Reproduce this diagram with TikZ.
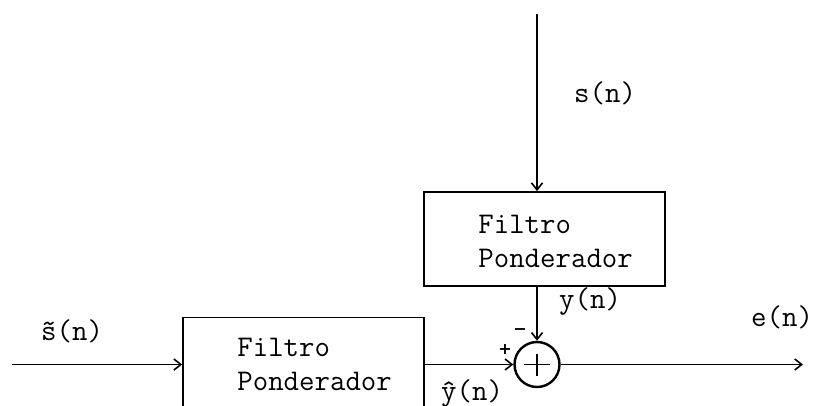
\documentclass[tikz,border=0pt]{standalone}
\usepackage{fontspec}
\usetikzlibrary{arrows.meta}
\newfontfamily\sgnfamily{DejaVu Sans}
\newcommand\lblfont{\ttfamily\fontsize{30pt}{34pt}\selectfont}
\newcommand\sgnfont{\sgnfamily\bfseries\fontsize{16pt}{18pt}\selectfont}
\tikzset{
  blk/.style={draw, line width=1.7pt, minimum width=241pt, minimum height=94pt, inner sep=0pt},
  txt/.style={font=\lblfont, inner sep=0pt, align=left},
  sgn/.style={font=\sgnfont, inner sep=0pt},
  arr/.style={line width=1.7pt, -{Straight Barb[length=7pt,width=11pt,line width=1.6pt]}},
  ln/.style={line width=1.8pt},
  summer/.style={draw, circle, line width=2.4pt, minimum size=45pt, inner sep=0pt}
}
\begin{document}
\begin{tikzpicture}[x=1pt,y=-1pt]
\useasboundingbox (0,0) rectangle (818,405);
% blocks
\node[blk] (tbox) at (544.5,239) {};
\node[blk] (bbox) at (303.5,364.5) {};
\node[txt, anchor=west] (ttext) at ([xshift=55pt,yshift=-2pt]tbox.west) {Filtro\\Ponderador};
\node[txt, anchor=west] (btext) at ([xshift=55pt]bbox.west) {Filtro\\Ponderador};
% summing junction
\node[summer] (sum) at (537,364.5) {};
\draw[ln] ([xshift=-13pt]sum.center) -- ([xshift=13pt]sum.center);
\draw[ln] ([yshift=-11pt]sum.center) -- ([yshift=11pt]sum.center);
% free ends
\coordinate (top) at (537,14);
\coordinate (inp) at (12,364.5);
\coordinate (out) at (803,364.5);
% connectors
\draw[arr] (top) -- (top |- tbox.north);
\draw[arr] (top |- tbox.south) -- (sum.north);
\draw[arr] (inp) -- (bbox.west);
\draw[arr] (bbox.east) -- (sum.west);
\draw[arr] (sum.east) -- (out);
% labels
\node[txt, anchor=base west] (ls) at (574,102) {s(n)};
\node[txt, anchor=base west] (ly) at (559,308) {y(n)};
\node[txt, anchor=base west] (le) at (751,326) {e(n)};
\node[txt, anchor=base west] (lst) at (41,340) {\~{s}(n)};
\node[txt, anchor=base west] (lyh) at (441,400) {\^{y}(n)};
\node[sgn] (plus) at (505,349) {+};
\node[sgn] (minus) at (520,332) {−};
\end{tikzpicture}
\end{document}
